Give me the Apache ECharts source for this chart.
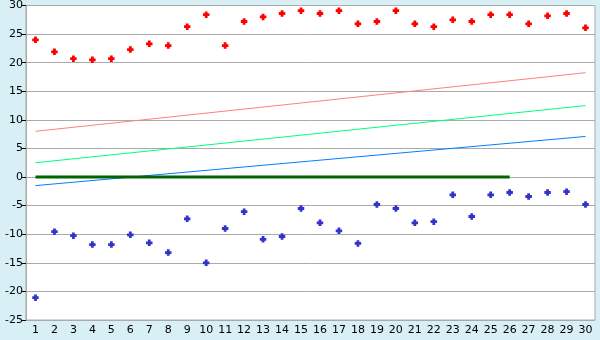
<!DOCTYPE html>
<html><head><meta charset="utf-8">
<script src="https://cdn.jsdelivr.net/npm/echarts@6/dist/echarts.min.js"></script>
<style>html,body{margin:0;padding:0;background:#d8eff6;}#c{width:600px;height:340px;}</style>
</head><body><div id="c"></div>
<script>
var categories = ['1','2','3','4','5','6','7','8','9','10','11','12','13','14','15','16','17','18','19','20','21','22','23','24','25','26','27','28','29','30'];
var redPoints = [24.0,21.9,20.7,20.5,20.7,22.3,23.3,23.0,26.3,28.4,23.0,27.2,28.0,28.6,29.1,28.6,29.1,26.8,27.2,29.1,26.8,26.3,27.5,27.2,28.4,28.4,26.8,28.2,28.6,26.1];
var bluePoints = [-21.1,-9.55,-10.25,-11.8,-11.8,-10.1,-11.5,-13.2,-7.3,-15.0,-9.0,-6.05,-10.9,-10.4,-5.5,-8.0,-9.4,-11.6,-4.8,-5.5,-8.0,-7.8,-3.1,-6.9,-3.1,-2.7,-3.4,-2.7,-2.55,-4.8];
// straight lines: endpoints
var pinkLine = [8.0,null,null,null,null,null,null,null,null,null,null,null,null,null,null,null,null,null,null,null,null,null,null,null,null,null,null,null,null,18.25];
var greenLine = [2.5,null,null,null,null,null,null,null,null,null,null,null,null,null,null,null,null,null,null,null,null,null,null,null,null,null,null,null,null,12.5];
var blueLine = [-1.5,null,null,null,null,null,null,null,null,null,null,null,null,null,null,null,null,null,null,null,null,null,null,null,null,null,null,null,null,7.1];
var zeroLine = [0,0,0,0,0,0,0,0,0,0,0,0,0,0,0,0,0,0,0,0,0,0,0,0,0,0];
var yTicks = {min:-25, max:30, interval:5};

var marker = 'path://M2,0 H5 V2 H7 V5 H5 V7 H2 V5 H0 V2 H2 Z';
var chart = echarts.init(document.getElementById('c'), null, {renderer:'canvas'});
var font = {fontFamily:'DejaVu Sans', fontSize:11, color:'#000'};
chart.setOption({
  animation:false,
  backgroundColor:'#d8eff6',
  grid:{left:26, right:5, top:5, bottom:20, show:true, backgroundColor:'#fff', borderColor:'#aaa', borderWidth:1},
  xAxis:{type:'category', data:categories, boundaryGap:true,
    axisLine:{lineStyle:{color:'#aaa'}},
    axisTick:{alignWithLabel:true, length:4, lineStyle:{color:'#000'}},
    axisLabel:Object.assign({margin:5, interval:0}, font),
    splitLine:{show:false}},
  yAxis:{type:'value', min:yTicks.min, max:yTicks.max, interval:yTicks.interval,
    axisLine:{show:true, lineStyle:{color:'#aaa'}},
    axisTick:{show:true, length:4, lineStyle:{color:'#000'}},
    axisLabel:Object.assign({margin:3}, font),
    splitLine:{lineStyle:{color:'#aaa', width:1}}},
  series:[
    {type:'line', data:pinkLine, connectNulls:true, showSymbol:false, lineStyle:{color:'#ff8080', width:1}, z:2},
    {type:'line', data:greenLine, connectNulls:true, showSymbol:false, lineStyle:{color:'#00ff80', width:1}, z:2},
    {type:'line', data:blueLine, connectNulls:true, showSymbol:false, lineStyle:{color:'#0080ff', width:1}, z:2},
    {type:'line', data:zeroLine, showSymbol:false, lineStyle:{color:'#006400', width:3}, z:3},
    {type:'scatter', data:redPoints, symbol:marker, symbolSize:6.5, itemStyle:{color:'#ff0000', opacity:1}, z:4},
    {type:'scatter', data:bluePoints, symbol:marker, symbolSize:6.5, itemStyle:{color:'#3333cc', opacity:1}, z:4}
  ]
});
</script></body></html>
